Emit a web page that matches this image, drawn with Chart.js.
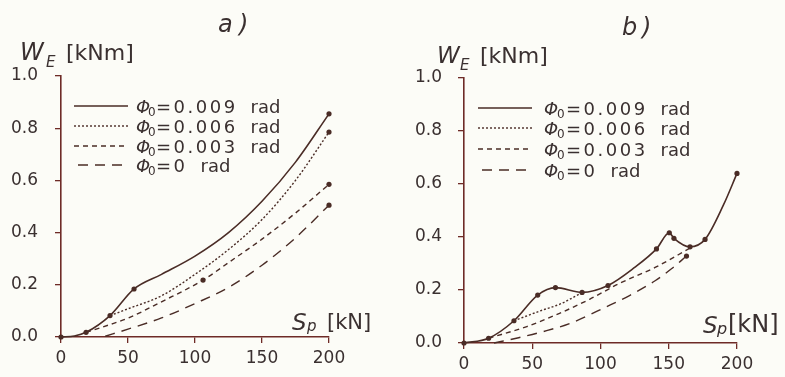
<!DOCTYPE html>
<html><head><meta charset="utf-8">
<script src="https://cdn.jsdelivr.net/npm/chart.js@4.4.0/dist/chart.umd.min.js"></script>
<style>
html,body{margin:0;padding:0;background:#fcfcf7;}
#wrap{position:relative;width:785px;height:377px;overflow:hidden;background:#fcfcf7;}
canvas{position:absolute;top:0;}
</style></head><body>
<div id="wrap">
<canvas id="ca" width="392" height="377" style="left:0"></canvas>
<canvas id="cb" width="392" height="377" style="left:393px"></canvas>
</div>
<script>
// ---------- data ----------
const xTickValues = [0, 50, 100, 150, 200];
const xTickLabels = ['0', '50', '100', '150', '200'];
const yTickValues = [0, 0.2, 0.4, 0.6, 0.8, 1.0];
const yTickLabels = ['0.0', '0.2', '0.4', '0.6', '0.8', '1.0'];
const seriesNames = ['0.009', '0.006', '0.003', '0'];   // Φ0 [rad]

// panel a)
const aPhi009X = [0, 10, 18.7, 36.6, 54.5, 75, 100, 125, 150, 175, 200];
const aPhi009Y = [0, 0.004, 0.018, 0.082, 0.184, 0.24, 0.31, 0.40, 0.52, 0.67, 0.855];
const aPhi009Marks = [0, 18.7, 36.6, 54.5, 200];
const aPhi006X = [36.6, 50, 75, 100, 125, 150, 175, 200];
const aPhi006Y = [0.082, 0.108, 0.158, 0.24, 0.335, 0.45, 0.60, 0.785];
const aPhi006Marks = [200];
const aPhi003X = [18.7, 35, 50, 75, 106, 125, 150, 175, 200];
const aPhi003Y = [0.018, 0.045, 0.072, 0.135, 0.218, 0.285, 0.375, 0.475, 0.585];
const aPhi003Marks = [106, 200];
const aPhi0X = [33, 50, 75, 100, 125, 150, 175, 200];
const aPhi0Y = [0.003, 0.03, 0.073, 0.128, 0.19, 0.275, 0.38, 0.505];
const aPhi0Marks = [200];

// panel b)
const bPhi009X = [0, 18, 36.6, 54, 67, 86.5, 105.5, 125, 141, 150.4, 153.8, 165.6, 176.6, 190, 200];
const bPhi009Y = [0, 0.018, 0.084, 0.181, 0.209, 0.191, 0.217, 0.285, 0.355, 0.416, 0.395, 0.363, 0.391, 0.52, 0.64];
const bPhi009Marks = [0, 18, 36.6, 54, 67, 86.5, 105.5, 141, 150.4, 153.8, 165.6, 176.6, 200];
const bPhi006X = [36.6, 58, 70, 86.5];
const bPhi006Y = [0.084, 0.125, 0.146, 0.19];
const bPhi006Marks = [];
const bPhi003X = [18, 46, 70, 92, 114, 140, 165.6];
const bPhi003Y = [0.018, 0.062, 0.112, 0.165, 0.225, 0.285, 0.358];
const bPhi003Marks = [];
const bPhi0X = [22, 40, 58, 77.7, 104.5, 121.6, 140, 152, 163];
const bPhi0Y = [0.0, 0.02, 0.043, 0.074, 0.137, 0.18, 0.235, 0.28, 0.328];
const bPhi0Marks = [163];

// ---------- style ----------
const LINE = '#4a2c26', AXIS = '#6e2b27', TXT = '#3a3030';
const FONT = '"DejaVu Sans", "Liberation Sans", sans-serif';
const DASHES = [[], [2, 2], [5, 4], [10, 7]];
const WIDTHS = [1.6, 1.4, 1.4, 1.4];

function ds(i, xs, ys, marks) {
  return {
    label: seriesNames[i],
    data: xs.map((x, k) => ({ x: x, y: ys[k] })),
    borderColor: LINE, backgroundColor: LINE,
    borderWidth: WIDTHS[i], borderDash: DASHES[i],
    pointRadius: c => (c.raw && marks.includes(c.raw.x)) ? 2.6 : 0,
    pointHoverRadius: 0, pointBorderWidth: 0,
    cubicInterpolationMode: 'monotone', clip: false, fill: false
  };
}

const decorCfg = {
  ca: {
    texts: [
      ['a', 218, 32, 'italic 24px ' + FONT],
      [')', 239, 32, 'italic 24px ' + FONT],
      ['W', 20, 60, 'italic 24px ' + FONT],
      ['E', 46, 67, 'italic 15px ' + FONT],
      ['[kNm]', 66, 60, '22px ' + FONT],
      ['S', 292, 330, 'italic 23px ' + FONT],
      ['p', 307, 331, 'italic 15px ' + FONT],
      ['[kN]', 327, 329, '21px ' + FONT]
    ],
    legend: { rows: [106, 126, 146, 165], lx1: [74, 74, 74, 78], lx2: [128, 128, 128, 125], phiX: 136, subX: 148, eqX: 156 }
  },
  cb: {
    texts: [
      ['b', 229, 35, 'italic 24px ' + FONT],
      [')', 249, 35, 'italic 24px ' + FONT],
      ['W', 44, 63, 'italic 23px ' + FONT],
      ['E', 67, 70, 'italic 15px ' + FONT],
      ['[kNm]', 87, 63, '22px ' + FONT],
      ['S', 310, 333, 'italic 23px ' + FONT],
      ['p', 324, 334, 'italic 16px ' + FONT],
      ['[kN]', 335, 332, '24px ' + FONT]
    ],
    legend: { rows: [108, 128, 149, 170], lx1: [85, 85, 85, 89], lx2: [139, 139, 139, 139], phiX: 151, subX: 164, eqX: 173 }
  }
};

const decorPlugin = {
  id: 'decor',
  afterDraw(chart) {
    const cfg = decorCfg[chart.canvas.id];
    if (!cfg) return;
    const ctx = chart.ctx;
    ctx.save();
    ctx.fillStyle = TXT;
    ctx.textBaseline = 'alphabetic';
    ctx.textAlign = 'left';
    cfg.texts.forEach(t => { ctx.font = t[3]; ctx.fillText(t[0], t[1], t[2]); });
    const L = cfg.legend;
    chart.data.datasets.forEach((d, i) => {
      const y = L.rows[i];
      ctx.save();
      ctx.strokeStyle = LINE; ctx.lineWidth = d.borderWidth;
      ctx.setLineDash(d.borderDash || []);
      ctx.beginPath(); ctx.moveTo(L.lx1[i], y); ctx.lineTo(L.lx2[i], y); ctx.stroke();
      ctx.restore();
      ctx.fillStyle = TXT;
      ctx.font = 'italic 18px ' + FONT; ctx.fillText('Φ', L.phiX, y + 6.5);
      ctx.font = '12px ' + FONT; ctx.fillText('0', L.subX, y + 10);
      ctx.font = '18px ' + FONT;
      ctx.letterSpacing = '2.5px';
      const s = '=' + d.label;
      ctx.fillText(s, L.eqX, y + 6.5);
      const w = ctx.measureText(s).width;
      ctx.letterSpacing = '0px';
      ctx.fillText('rad', L.eqX + w + 13, y + 6.5);
    });
    ctx.restore();
  }
};

function options(lay) {
  return {
    responsive: false, animation: false, events: [],
    layout: { padding: { left: 0, top: lay.top, right: lay.right, bottom: 0 } },
    plugins: { legend: { display: false }, tooltip: { enabled: false } },
    scales: {
      x: {
        type: 'linear', min: 0, max: 200,
        afterBuildTicks: s => { s.ticks = xTickValues.map(v => ({ value: v })); },
        afterFit: s => { s.height = lay.xh; },
        ticks: { callback: v => xTickLabels[xTickValues.indexOf(v)], color: TXT, font: { family: FONT, size: 17 }, padding: 5, maxRotation: 0, autoSkip: false },
        grid: { drawOnChartArea: false, drawTicks: true, tickLength: 6, color: AXIS, lineWidth: 1.3 },
        border: { display: true, color: AXIS, width: 1.6 }
      },
      y: {
        type: 'linear', min: 0, max: 1,
        afterBuildTicks: s => { s.ticks = yTickValues.map(v => ({ value: v })); },
        afterFit: s => { s.width = lay.yw; },
        ticks: { callback: v => yTickLabels[yTickValues.findIndex(t => Math.abs(t - v) < 1e-9)], color: TXT, font: { family: FONT, size: 17 }, padding: lay.ypad, autoSkip: false },
        grid: { drawOnChartArea: false, drawTicks: true, tickLength: 6, color: AXIS, lineWidth: 1.3 },
        border: { display: true, color: AXIS, width: 1.6 }
      }
    }
  };
}

new Chart(document.getElementById('ca'), {
  type: 'line',
  data: { datasets: [
    ds(0, aPhi009X, aPhi009Y, aPhi009Marks),
    ds(1, aPhi006X, aPhi006Y, aPhi006Marks),
    ds(2, aPhi003X, aPhi003Y, aPhi003Marks),
    ds(3, aPhi0X, aPhi0Y, aPhi0Marks)
  ] },
  options: options({ top: 76, right: 63, xh: 40, yw: 61, ypad: 17 }),
  plugins: [decorPlugin]
});

new Chart(document.getElementById('cb'), {
  type: 'line',
  data: { datasets: [
    ds(0, bPhi009X, bPhi009Y, bPhi009Marks),
    ds(1, bPhi006X, bPhi006Y, bPhi006Marks),
    ds(2, bPhi003X, bPhi003Y, bPhi003Marks),
    ds(3, bPhi0X, bPhi0Y, bPhi0Marks)
  ] },
  options: options({ top: 78, right: 48, xh: 34, yw: 71, ypad: 16 }),
  plugins: [decorPlugin]
});
</script>
</body></html>
